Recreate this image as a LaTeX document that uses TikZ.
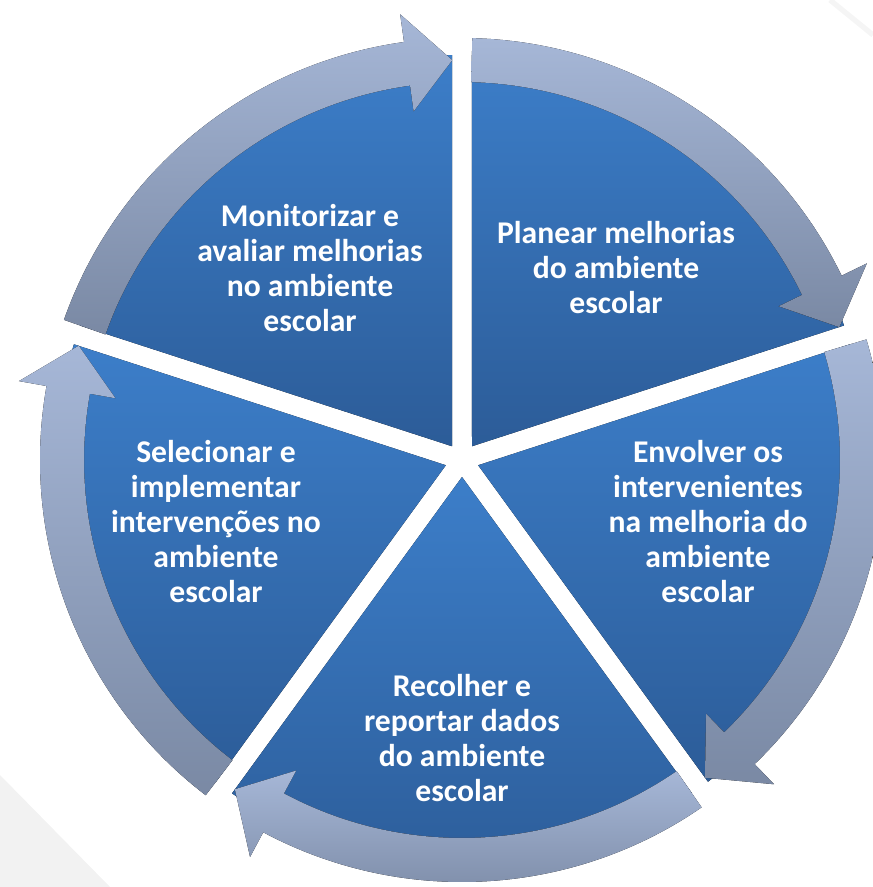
\documentclass[tikz,border=0pt]{standalone}
\usepackage{fontspec}
\setmainfont{Carlito}
\usetikzlibrary{calc}
\definecolor{pietop}{RGB}{60,126,201}
\definecolor{piebot}{RGB}{44,92,152}
\definecolor{arrtop}{RGB}{166,183,215}
\definecolor{arrbot}{RGB}{122,137,164}
\definecolor{bggray}{RGB}{242,242,242}
\begin{document}
\begin{tikzpicture}[line join=round,font=\fontsize{9}{9.96}\selectfont\bfseries,
	segment/.style={top color=pietop,bottom color=piebot,draw=none},
	ringarrow/.style={top color=arrtop,bottom color=arrbot,draw=none},
	segtext/.style={text=white,align=center,inner sep=0pt}]
	\useasboundingbox (0,0) rectangle (8.73,-8.87);
	% background
	\fill[bggray] (0,-7.75) -- (1.10,-8.87) -- (0,-8.87) -- cycle;
	\draw[gray!8,line width=1.5pt] (8.30,0) -- (8.73,-0.35);
	\path (4.62,-4.60) coordinate (O);
	% segments
	\foreach \a in {90,18,-54,-126,-198}{
		\fill[segment] ($(O)+({\a-36}:0.17)$) -- ($(O)+({\a-1.4}:4.05)$) arc[start angle=\a-1.4,end angle=\a-70.6,radius=4.05] -- cycle;
	}
	% arrows round the ring
	\foreach \a in {90,18,-54,-126,-198}{
		\fill[ringarrow] ($(O)+({\a-1.4}:4.22)$) arc[start angle=\a-1.4,end angle=\a-64.1,radius=4.22]
		-- ($(O)+({\a-64.1}:4.50)$) -- ($(O)+({\a-70.6}:4.00)$) -- ($(O)+({\a-64.1}:3.52)$)
		-- ($(O)+({\a-64.1}:3.78)$) arc[start angle=\a-64.1,end angle=\a-1.4,radius=3.78] -- cycle;
	}
	\node[segtext] (planear) at (6.16,-2.68) {Planear melhorias\\do ambiente\\escolar};
	\node[segtext] (envolver) at (7.08,-5.22) {Envolver os\\intervenientes\\na melhoria do\\ambiente\\escolar};
	\node[segtext] (recolher) at (4.62,-7.38) {Recolher e\\reportar dados\\do ambiente\\escolar};
	\node[segtext] (selecionar) at (2.16,-5.22) {Selecionar e\\implementar\\intervenções no\\ambiente\\escolar};
	\node[segtext] (monitorizar) at (3.10,-2.68) {Monitorizar e\\avaliar melhorias\\no ambiente\\escolar};
\end{tikzpicture}
\end{document}
